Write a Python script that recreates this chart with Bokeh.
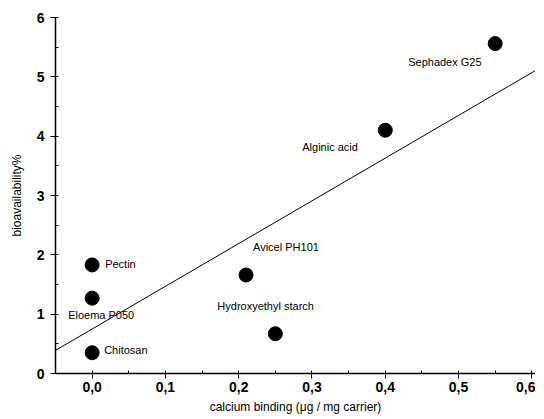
from bokeh.plotting import figure
from bokeh.models import FixedTicker, ColumnDataSource, Range1d
from bokeh.embed import file_html
from bokeh.resources import INLINE
from bokeh.core.properties import value

carriers = ["Pectin", "Eloema P050", "Chitosan", "Avicel PH101",
            "Hydroxyethyl starch", "Alginic acid", "Sephadex G25"]
calcium = [0.0, 0.0, 0.0, 0.21, 0.25, 0.40, 0.55]
bioavail = [1.83, 1.27, 0.35, 1.66, 0.67, 4.10, 5.56]

fit_intercept = 0.75
fit_slope = 7.2
fit_x = [-0.05, 0.605]

x_ticks = [0.0, 0.1, 0.2, 0.3, 0.4, 0.5, 0.6]
x_tick_labels = ["0,0", "0,1", "0,2", "0,3", "0,4", "0,5", "0,6"]
y_ticks = [0, 1, 2, 3, 4, 5, 6]

# label placement (pixels relative to point; positive dy = down on screen)
label_dx = [13, -24, 12, 7, -58, -83, -87]
label_dy = [-1, 17, -3, -28, -28, 17, 18]

p = figure(frame_width=480, frame_height=356, output_backend="svg",
           toolbar_location=None, x_range=Range1d(-0.05, 0.605),
           y_range=Range1d(0, 6), min_border_left=55, min_border_right=0,
           min_border_top=17, min_border_bottom=30)
p.outline_line_color = None
p.grid.visible = False
p.background_fill_color = "white"

fx = fit_x
fy = [fit_intercept + fit_slope * v for v in fx]
p.line(fx, fy, line_color="black", line_width=1)

src = ColumnDataSource(dict(x=calcium, y=bioavail, t=carriers,
                            dx=label_dx, dy=label_dy))
p.scatter("x", "y", source=src, size=14, color="black")
p.text("x", "y", text="t", source=src, x_offset="dx", y_offset="dy",
       text_font=value("Liberation Sans"), text_font_size="11px",
       text_baseline="middle", text_align="left", text_color="black")

minor_x = [i * 0.05 - 0.05 for i in range(15)]
p.xaxis.ticker = FixedTicker(ticks=x_ticks, minor_ticks=minor_x)
p.xaxis.major_label_overrides = {t: l for t, l in zip(x_ticks, x_tick_labels)}
p.yaxis.ticker = FixedTicker(ticks=y_ticks, minor_ticks=[i * 0.5 for i in range(13)])

for ax in (p.xaxis, p.yaxis):
    ax.axis_line_color = "black"
    ax.axis_line_width = 1.5
    ax.major_tick_line_color = "black"
    ax.minor_tick_line_color = "black"
    ax.major_tick_out = 5
    ax.major_tick_in = 0
    ax.minor_tick_out = 0
    ax.minor_tick_in = 3
    ax.major_label_text_font = "Liberation Sans"
    ax.major_label_text_font_style = "bold"
    ax.major_label_text_font_size = "14px"
    ax.major_label_text_color = "black"
    ax.axis_label_text_font = "Liberation Sans"
    ax.axis_label_text_font_style = "normal"
    ax.axis_label_text_font_size = "12px"
    ax.axis_label_text_color = "black"

p.xaxis.axis_label = "calcium binding (μg / mg carrier)"
p.yaxis.axis_label = "bioavailability%"
p.xaxis.major_label_standoff = 3
p.xaxis.axis_label_standoff = 5
p.yaxis.major_label_standoff = 6
p.yaxis.axis_label_standoff = 10

open("out.html", "w").write(file_html(p, INLINE))
